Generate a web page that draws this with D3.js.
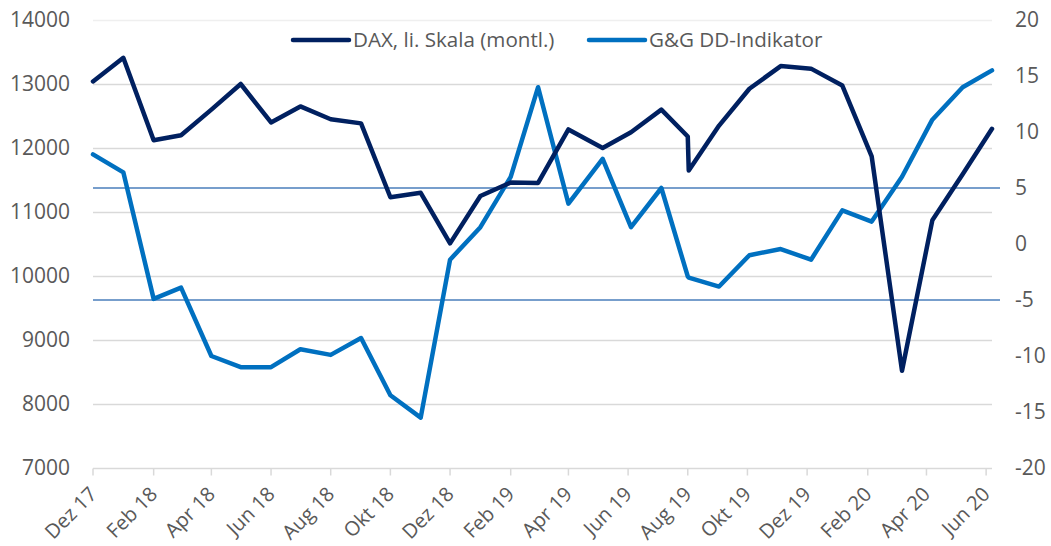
<!DOCTYPE html>
<html>
<head>
<meta charset="utf-8">
<script src="https://cdnjs.cloudflare.com/ajax/libs/d3/7.8.5/d3.min.js"></script>
<style>
	body { margin: 0; background: #fff; }
	svg { display: block; font-family: 'Open Sans', sans-serif; }
	.tick-label { fill: #595959; font-size: 21px; }
	.x-label { fill: #595959; font-size: 20px; }
	.legend-label { fill: #595959; font-size: 20.6px; }
</style>
</head>
<body>
<div id="chart"></div>
<script>
// Data points (dates as plotted on the date axis)
var dates = ['2017-12-01', '2018-01-01', '2018-02-01', '2018-03-01', '2018-04-01', '2018-05-01',
	'2018-06-01', '2018-07-01', '2018-08-01', '2018-09-01', '2018-10-01', '2018-11-01', '2018-12-01',
	'2019-01-01', '2019-02-01', '2019-03-01', '2019-04-01', '2019-05-06', '2019-06-04', '2019-07-05',
	'2019-08-01', '2019-08-02', '2019-09-02', '2019-10-03', '2019-11-04', '2019-12-05', '2020-01-06',
	'2020-02-05', '2020-03-07', '2020-04-07', '2020-05-08', '2020-06-07'];
// DAX, left scale (monthly)
var dax = [13040, 13410, 12120, 12200, 12600, 13000, 12400, 12650, 12450, 12385, 11230, 11300, 10510,
	11250, 11460, 11455, 12290, 12000, 12245, 12600, 12180, 11650, 12350, 12925, 13280, 13240, 12975,
	11870, 8520, 10870, 11590, 12300];
// G&G DD-Indikator, right scale
var ggIndicator = [8.0, 6.4, -4.9, -3.9, -10.0, -11.0, -11.0, -9.4, -9.9, -8.4, -13.5, -15.5, -1.4,
	1.5, 6.0, 14.0, 3.6, 7.6, 1.5, 5.0, -2.9, -3.0, -3.8, -1.0, -0.45, -1.4, 3.0,
	2.0, 6.0, 11.1, 14.0, 15.5];
// Threshold lines, right scale
var thresholds = [5, -5];
var leftTicks = [7000, 8000, 9000, 10000, 11000, 12000, 13000, 14000];
var rightTicks = [-20, -15, -10, -5, 0, 5, 10, 15, 20];
var xTickDates = ['2017-12-01', '2018-02-01', '2018-04-01', '2018-06-01', '2018-08-01', '2018-10-01',
	'2018-12-01', '2019-02-01', '2019-04-01', '2019-06-01', '2019-08-01', '2019-10-01', '2019-12-01',
	'2020-02-01', '2020-04-01', '2020-06-01'];
var monthNames = ['Jan', 'Feb', 'Mrz', 'Apr', 'Mai', 'Jun', 'Jul', 'Aug', 'Sep', 'Okt', 'Nov', 'Dez'];
var seriesNames = ['DAX, li. Skala (montl.)', 'G&G DD-Indikator'];

var w = 1051, h = 546;
var margin = {top: 20, right: 59, bottom: 78, left: 93};
var parseDate = d3.utcParse('%Y-%m-%d');
var xDates = dates.map(parseDate);

var svg = d3.select('#chart')
	.append('svg')
	.attr('width', w)
	.attr('height', h);

var x = d3.scaleUtc()
	.domain(d3.extent(xDates))
	.range([margin.left, w - margin.right]);
var yLeft = d3.scaleLinear()
	.domain([7000, 14000])
	.range([h - margin.bottom, margin.top]);
var yRight = d3.scaleLinear()
	.domain([-20, 20])
	.range([h - margin.bottom, margin.top]);

// Gridlines for the left axis.
svg.append('g')
	.selectAll('line')
	.data(leftTicks)
	.enter()
	.append('line')
	.attr('x1', margin.left)
	.attr('x2', w - margin.right)
	.attr('y1', function(d) { return Math.round(yLeft(d)) + 0.5; })
	.attr('y2', function(d) { return Math.round(yLeft(d)) + 0.5; })
	.attr('stroke', function(d) { return d === 14000 ? '#efefef' : '#d9d9d9'; })
	.attr('stroke-width', 1.5);

// Bottom axis ticks and labels, rotated like in the spreadsheet.
var axisY = Math.round(yLeft(7000)) + 0.5;
var xAxis = svg.append('g');
xAxis.selectAll('line')
	.data(xTickDates.map(parseDate))
	.enter()
	.append('line')
	.attr('x1', function(d) { return x(d); })
	.attr('x2', function(d) { return x(d); })
	.attr('y1', axisY)
	.attr('y2', axisY + 7)
	.attr('stroke', '#d9d9d9')
	.attr('stroke-width', 1.5);
xAxis.selectAll('text')
	.data(xTickDates.map(parseDate))
	.enter()
	.append('text')
	.attr('class', 'x-label')
	.attr('text-anchor', 'end')
	.attr('transform', function(d) {
		return 'translate(' + (x(d) + 5) + ',' + (axisY + 27) + ') rotate(-45)';
	})
	.text(function(d) {
		return monthNames[d.getUTCMonth()] + ' ' + String(d.getUTCFullYear()).slice(2);
	});

// Left and right axis labels.
svg.append('g')
	.selectAll('text')
	.data(leftTicks)
	.enter()
	.append('text')
	.attr('class', 'tick-label')
	.attr('x', 70)
	.attr('y', function(d) { return yLeft(d); })
	.attr('dy', '0.35em')
	.attr('text-anchor', 'end')
	.text(function(d) { return d; });
svg.append('g')
	.selectAll('text')
	.data(rightTicks)
	.enter()
	.append('text')
	.attr('class', 'tick-label')
	.attr('x', 1015)
	.attr('y', function(d) { return yRight(d); })
	.attr('dy', '0.35em')
	.attr('text-anchor', 'start')
	.text(function(d) { return d; });

// Threshold lines at +5 and -5 on the right scale.
svg.append('g')
	.selectAll('line')
	.data(thresholds)
	.enter()
	.append('line')
	.attr('x1', margin.left)
	.attr('x2', 1000)
	.attr('y1', function(d) { return yRight(d); })
	.attr('y2', function(d) { return yRight(d); })
	.attr('stroke', '#4a7ebb')
	.attr('stroke-width', 1.5);

// The two series.
var daxLine = d3.line()
	.x(function(d, i) { return x(xDates[i]); })
	.y(function(d) { return yLeft(d); });
var ggLine = d3.line()
	.x(function(d, i) { return x(xDates[i]); })
	.y(function(d) { return yRight(d); });
svg.append('path')
	.datum(ggIndicator)
	.attr('d', ggLine)
	.attr('fill', 'none')
	.attr('stroke', '#0070c0')
	.attr('stroke-width', 4.5)
	.attr('stroke-linejoin', 'round')
	.attr('stroke-linecap', 'round');
svg.append('path')
	.datum(dax)
	.attr('d', daxLine)
	.attr('fill', 'none')
	.attr('stroke', '#002060')
	.attr('stroke-width', 4.5)
	.attr('stroke-linejoin', 'round')
	.attr('stroke-linecap', 'round');

// Legend at the top.
var legendItems = [
	{name: seriesNames[0], color: '#002060', x: 293},
	{name: seriesNames[1], color: '#0070c0', x: 589}
];
var legend = svg.append('g')
	.selectAll('g')
	.data(legendItems)
	.enter()
	.append('g')
	.attr('transform', function(d) { return 'translate(' + d.x + ',40)'; });
legend.append('line')
	.attr('x1', 0)
	.attr('x2', 56)
	.attr('stroke', function(d) { return d.color; })
	.attr('stroke-width', 4.5)
	.attr('stroke-linecap', 'round');
legend.append('text')
	.attr('class', 'legend-label')
	.attr('x', 60)
	.attr('dy', '0.35em')
	.text(function(d) { return d.name; });
</script>
</body>
</html>
